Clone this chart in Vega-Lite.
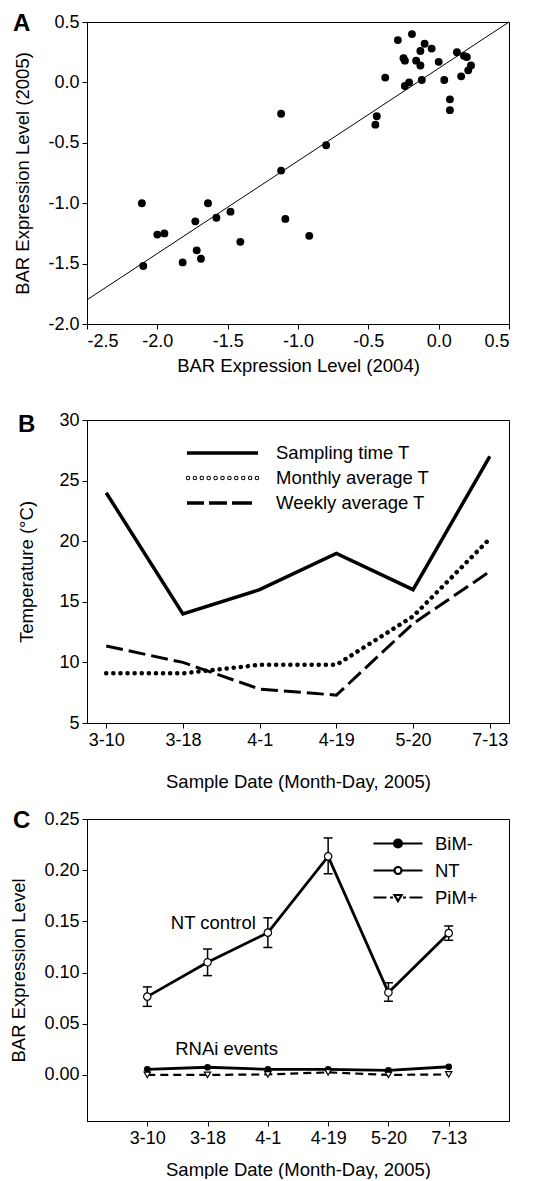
{
  "$schema": "https://vega.github.io/schema/vega-lite/v6.json",
  "padding": {"left": 9, "top": 11, "right": 5, "bottom": 0},
  "bounds": "flush",
  "spacing": 96,
  "resolve": {"scale": {"shape": "independent"}, "legend": {"shape": "independent"}},
  "config": {
    "font": "Liberation Sans",
    "locale": {"number": {"decimal": ".", "thousands": ",", "grouping": [3], "currency": ["$", ""], "minus": "-"}},
    "view": {"stroke": "black", "strokeWidth": 1},
    "axis": {"grid": false, "domainColor": "black", "domainWidth": 1, "tickColor": "black", "tickSize": 5, "labelColor": "black", "titleColor": "black", "labelFontSize": 18, "titleFontSize": 18.5, "titleFontWeight": "normal", "labelPadding": 3, "labelFont": "Liberation Sans", "titleFont": "Liberation Sans"},
    "title": {"fontSize": 24, "fontWeight": "bold", "anchor": "start", "frame": "group", "color": "black", "offset": 0, "font": "Liberation Sans"},
    "legend": {"labelFontSize": 18.5, "labelColor": "black", "labelFont": "Liberation Sans", "labelLimit": 300, "symbolStrokeColor": "black"}
  },
  "datasets": {
    "fit": [{"x": -2.5, "y": -1.8}, {"x": 0.5, "y": 0.5}],
    "scatter": [
      {"x": -0.19, "y": 0.40}, {"x": -0.29, "y": 0.35}, {"x": -0.10, "y": 0.32}, {"x": -0.13, "y": 0.26},
      {"x": -0.05, "y": 0.28}, {"x": -0.25, "y": 0.20}, {"x": -0.24, "y": 0.18}, {"x": -0.16, "y": 0.18},
      {"x": -0.13, "y": 0.14}, {"x": 0.0, "y": 0.17}, {"x": 0.13, "y": 0.25}, {"x": 0.18, "y": 0.22},
      {"x": 0.20, "y": 0.21}, {"x": 0.23, "y": 0.14}, {"x": 0.21, "y": 0.10}, {"x": 0.16, "y": 0.05},
      {"x": 0.04, "y": 0.02}, {"x": -0.12, "y": 0.02}, {"x": -0.21, "y": 0.0}, {"x": -0.24, "y": -0.03},
      {"x": -0.38, "y": 0.04}, {"x": 0.08, "y": -0.14}, {"x": 0.08, "y": -0.23}, {"x": -0.44, "y": -0.28},
      {"x": -0.45, "y": -0.35}, {"x": -1.12, "y": -0.26}, {"x": -0.80, "y": -0.52}, {"x": -1.12, "y": -0.73},
      {"x": -2.11, "y": -1.0}, {"x": -1.64, "y": -1.0}, {"x": -1.48, "y": -1.07}, {"x": -1.58, "y": -1.12},
      {"x": -1.73, "y": -1.15}, {"x": -1.09, "y": -1.13}, {"x": -2.0, "y": -1.26}, {"x": -1.95, "y": -1.25},
      {"x": -0.92, "y": -1.27}, {"x": -1.41, "y": -1.32}, {"x": -1.72, "y": -1.39}, {"x": -1.69, "y": -1.46},
      {"x": -1.82, "y": -1.49}, {"x": -2.10, "y": -1.52}
    ],
    "temps": [
      {"date": "3-10", "series": "Sampling time T", "T": 24}, {"date": "3-18", "series": "Sampling time T", "T": 14},
      {"date": "4-1", "series": "Sampling time T", "T": 16}, {"date": "4-19", "series": "Sampling time T", "T": 19},
      {"date": "5-20", "series": "Sampling time T", "T": 16}, {"date": "7-13", "series": "Sampling time T", "T": 27},
      {"date": "3-10", "series": "Monthly average T", "T": 9.1}, {"date": "3-18", "series": "Monthly average T", "T": 9.1},
      {"date": "4-1", "series": "Monthly average T", "T": 9.8}, {"date": "4-19", "series": "Monthly average T", "T": 9.8},
      {"date": "5-20", "series": "Monthly average T", "T": 13.8}, {"date": "7-13", "series": "Monthly average T", "T": 20.2},
      {"date": "3-10", "series": "Weekly average T", "T": 11.35}, {"date": "3-18", "series": "Weekly average T", "T": 10.0},
      {"date": "4-1", "series": "Weekly average T", "T": 7.8}, {"date": "4-19", "series": "Weekly average T", "T": 7.3},
      {"date": "5-20", "series": "Weekly average T", "T": 13.2}, {"date": "7-13", "series": "Weekly average T", "T": 17.5}
    ],
    "expr": [
      {"date": "3-10", "series": "NT", "value": 0.0765, "lo": 0.067, "hi": 0.086},
      {"date": "3-18", "series": "NT", "value": 0.110, "lo": 0.097, "hi": 0.123},
      {"date": "4-1", "series": "NT", "value": 0.139, "lo": 0.1245, "hi": 0.1535},
      {"date": "4-19", "series": "NT", "value": 0.2135, "lo": 0.1965, "hi": 0.2315},
      {"date": "5-20", "series": "NT", "value": 0.0805, "lo": 0.072, "hi": 0.090},
      {"date": "7-13", "series": "NT", "value": 0.1385, "lo": 0.1315, "hi": 0.1455},
      {"date": "3-10", "series": "BiM-", "value": 0.0055}, {"date": "3-18", "series": "BiM-", "value": 0.0075},
      {"date": "4-1", "series": "BiM-", "value": 0.0055}, {"date": "4-19", "series": "BiM-", "value": 0.0055},
      {"date": "5-20", "series": "BiM-", "value": 0.0045}, {"date": "7-13", "series": "BiM-", "value": 0.008},
      {"date": "3-10", "series": "PiM+", "value": 0.0}, {"date": "3-18", "series": "PiM+", "value": 0.0},
      {"date": "4-1", "series": "PiM+", "value": 0.0005}, {"date": "4-19", "series": "PiM+", "value": 0.0025},
      {"date": "5-20", "series": "PiM+", "value": 0.0}, {"date": "7-13", "series": "PiM+", "value": 0.0005}
    ],
    "notes": [
      {"date": "4-1", "value": 0.148, "label": "NT control"},
      {"date": "3-18", "value": 0.0254, "label": "RNAi events"}
    ]
  },
  "vconcat": [
    {
      "width": 422, "height": 302,
      "title": {"text": "A", "dx": -74, "dy": 27},
      "layer": [
        {
          "data": {"name": "fit"},
          "mark": {"type": "line", "color": "black", "strokeWidth": 1},
          "encoding": {
            "x": {"field": "x", "type": "quantitative", "scale": {"domain": [-2.5, 0.5], "nice": false, "zero": false},
                  "axis": {"values": [-2.5, -2, -1.5, -1, -0.5, 0, 0.5], "format": ".1f", "title": "BAR Expression Level (2004)", "titlePadding": 6}},
            "y": {"field": "y", "type": "quantitative", "scale": {"domain": [-2, 0.5], "nice": false, "zero": false},
                  "axis": {"values": [-2, -1.5, -1, -0.5, 0, 0.5], "format": ".1f", "title": "BAR Expression Level (2005)", "titlePadding": 15}}
          }
        },
        {
          "data": {"name": "scatter"},
          "mark": {"type": "circle", "color": "black", "size": 62, "opacity": 1},
          "encoding": {
            "x": {"field": "x", "type": "quantitative"},
            "y": {"field": "y", "type": "quantitative"}
          }
        }
      ]
    },
    {
      "width": 422, "height": 303,
      "title": {"text": "B", "dx": -69, "dy": 30},
      "data": {"name": "temps"},
      "encoding": {
        "x": {"field": "date", "type": "ordinal", "scale": {"type": "point", "padding": 0.25, "domain": ["3-10", "3-18", "4-1", "4-19", "5-20", "7-13"]},
              "axis": {"labelAngle": 0, "title": "Sample Date (Month-Day, 2005)", "titlePadding": 23}},
        "y": {"field": "T", "type": "quantitative", "scale": {"domain": [5, 30], "nice": false, "zero": false},
              "axis": {"values": [5, 10, 15, 20, 25, 30], "title": "Temperature (°C)", "titlePadding": 22}}
      },
      "layer": [
        {"transform": [{"filter": "datum.series == 'Sampling time T'"}], "mark": {"type": "line", "color": "black", "strokeWidth": 3.5}},
        {"transform": [{"filter": "datum.series == 'Monthly average T'"}], "mark": {"type": "line", "color": "black", "strokeWidth": 4.5, "strokeDash": [0.1, 7], "strokeCap": "round"}},
        {"transform": [{"filter": "datum.series == 'Weekly average T'"}], "mark": {"type": "line", "color": "black", "strokeWidth": 3, "strokeDash": [17, 6]}},
        {
          "transform": [{"filter": "false"}],
          "mark": {"type": "point", "filled": false, "stroke": "black", "strokeWidth": 3.5, "opacity": 1},
          "encoding": {
            "shape": {
              "field": "series", "type": "nominal",
              "scale": {
                "domain": ["Sampling time T", "Monthly average T", "Weekly average T"],
                "range": [
                  "M-6.1 0H1",
                  "M-5.95 0A0.05 0.05 0 1 1 -6.05 0A0.05 0.05 0 1 1 -5.95 0ZM-5.26 0A0.05 0.05 0 1 1 -5.36 0A0.05 0.05 0 1 1 -5.26 0ZM-4.57 0A0.05 0.05 0 1 1 -4.67 0A0.05 0.05 0 1 1 -4.57 0ZM-3.88 0A0.05 0.05 0 1 1 -3.98 0A0.05 0.05 0 1 1 -3.88 0ZM-3.19 0A0.05 0.05 0 1 1 -3.29 0A0.05 0.05 0 1 1 -3.19 0ZM-2.5 0A0.05 0.05 0 1 1 -2.6 0A0.05 0.05 0 1 1 -2.5 0ZM-1.81 0A0.05 0.05 0 1 1 -1.91 0A0.05 0.05 0 1 1 -1.81 0ZM-1.12 0A0.05 0.05 0 1 1 -1.22 0A0.05 0.05 0 1 1 -1.12 0ZM-0.43 0A0.05 0.05 0 1 1 -0.53 0A0.05 0.05 0 1 1 -0.43 0ZM0.26 0A0.05 0.05 0 1 1 0.16 0A0.05 0.05 0 1 1 0.26 0ZM0.95 0A0.05 0.05 0 1 1 0.85 0A0.05 0.05 0 1 1 0.95 0Z",
                  "M-6.1 0H-4.4M-3.9 0H-2.1M-1.6 0H0.4"
                ]
              },
              "legend": {"title": null, "orient": "none", "legendX": 149, "legendY": 21, "symbolSize": 400, "symbolStrokeWidth": 3.5, "symbolFillColor": "transparent", "symbolStrokeColor": "black", "labelOffset": 16, "rowPadding": 3}
            }
          }
        }
      ]
    },
    {
      "width": 422, "height": 302,
      "title": {"text": "C", "dx": -74, "dy": 27},
      "data": {"name": "expr"},
      "encoding": {
        "x": {"field": "date", "type": "ordinal", "scale": {"type": "point", "padding": 1, "domain": ["3-10", "3-18", "4-1", "4-19", "5-20", "7-13"]},
              "axis": {"labelAngle": 0, "title": "Sample Date (Month-Day, 2005)", "titlePadding": 13}},
        "y": {"field": "value", "type": "quantitative", "title": "BAR Expression Level", "scale": {"domain": [-0.045, 0.25], "nice": false, "zero": false},
              "axis": {"values": [0, 0.05, 0.1, 0.15, 0.2, 0.25], "format": ".2f", "title": "BAR Expression Level", "titlePadding": 15}}
      },
      "layer": [
        {"transform": [{"filter": "datum.series == 'NT'"}], "mark": {"type": "rule", "color": "black", "strokeWidth": 1.5},
         "encoding": {"y": {"field": "lo", "type": "quantitative", "title": "BAR Expression Level"}, "y2": {"field": "hi"}}},
        {"transform": [{"filter": "datum.series == 'NT'"}], "mark": {"type": "tick", "orient": "horizontal", "color": "black", "size": 9, "thickness": 1.5, "opacity": 1},
         "encoding": {"y": {"field": "lo", "type": "quantitative", "title": "BAR Expression Level"}}},
        {"transform": [{"filter": "datum.series == 'NT'"}], "mark": {"type": "tick", "orient": "horizontal", "color": "black", "size": 9, "thickness": 1.5, "opacity": 1},
         "encoding": {"y": {"field": "hi", "type": "quantitative", "title": "BAR Expression Level"}}},
        {"transform": [{"filter": "datum.series == 'NT'"}], "mark": {"type": "line", "color": "black", "strokeWidth": 2.8}},
        {"transform": [{"filter": "datum.series == 'BiM-'"}], "mark": {"type": "line", "color": "black", "strokeWidth": 2.8}},
        {"transform": [{"filter": "datum.series == 'PiM+'"}], "mark": {"type": "line", "color": "black", "strokeWidth": 2.2, "strokeDash": [8, 5]}},
        {"transform": [{"filter": "datum.series == 'NT'"}], "mark": {"type": "point", "shape": "circle", "filled": true, "fill": "white", "stroke": "black", "strokeWidth": 1.2, "size": 55, "opacity": 1}},
        {"transform": [{"filter": "datum.series == 'BiM-'"}], "mark": {"type": "circle", "color": "black", "size": 45, "opacity": 1}},
        {"transform": [{"filter": "datum.series == 'PiM+'"}], "mark": {"type": "point", "shape": "triangle-down", "filled": true, "fill": "white", "stroke": "black", "strokeWidth": 1.2, "size": 40, "opacity": 1}},
        {"data": {"name": "notes"}, "transform": [{"filter": "datum.label == 'NT control'"}],
         "mark": {"type": "text", "align": "right", "baseline": "middle", "dx": -12, "fontSize": 18.5, "color": "black", "font": "Liberation Sans"},
         "encoding": {"text": {"field": "label"}}},
        {"data": {"name": "notes"}, "transform": [{"filter": "datum.label == 'RNAi events'"}],
         "mark": {"type": "text", "align": "center", "baseline": "middle", "dx": 19, "fontSize": 18.5, "color": "black", "font": "Liberation Sans"},
         "encoding": {"text": {"field": "label"}}},
        {
          "transform": [{"filter": "false"}],
          "mark": {"type": "point", "filled": false, "stroke": "black", "strokeWidth": 2.2, "opacity": 1},
          "encoding": {
            "shape": {
              "field": "series", "type": "nominal",
              "scale": {
                "domain": ["BiM-", "NT", "PiM+"],
                "range": [
                  "M-3.9 0H1M-1.05 0A0.4 0.4 0 1 1 -1.85 0A0.4 0.4 0 1 1 -1.05 0ZM-1.25 0A0.2 0.2 0 1 1 -1.65 0A0.2 0.2 0 1 1 -1.25 0ZM-1.4 0A0.05 0.05 0 1 1 -1.5 0A0.05 0.05 0 1 1 -1.4 0Z",
                  "M-3.9 0H-1.85M-1.05 0H1M-1.1 0A0.35 0.35 0 1 1 -1.8 0A0.35 0.35 0 1 1 -1.1 0Z",
                  "M-3.9 0H-2.6M-2.25 0H-1.95M-0.95 0H-0.65M-0.3 0H1M-1.8 -0.25L-1.1 -0.25L-1.45 0.35Z"
                ]
              },
              "legend": {"title": null, "orient": "none", "legendX": 314, "legendY": 13, "symbolSize": 400, "symbolStrokeWidth": 2.2, "symbolFillColor": "transparent", "symbolStrokeColor": "black", "labelOffset": 11, "rowPadding": 6}
            }
          }
        }
      ]
    }
  ]
}
